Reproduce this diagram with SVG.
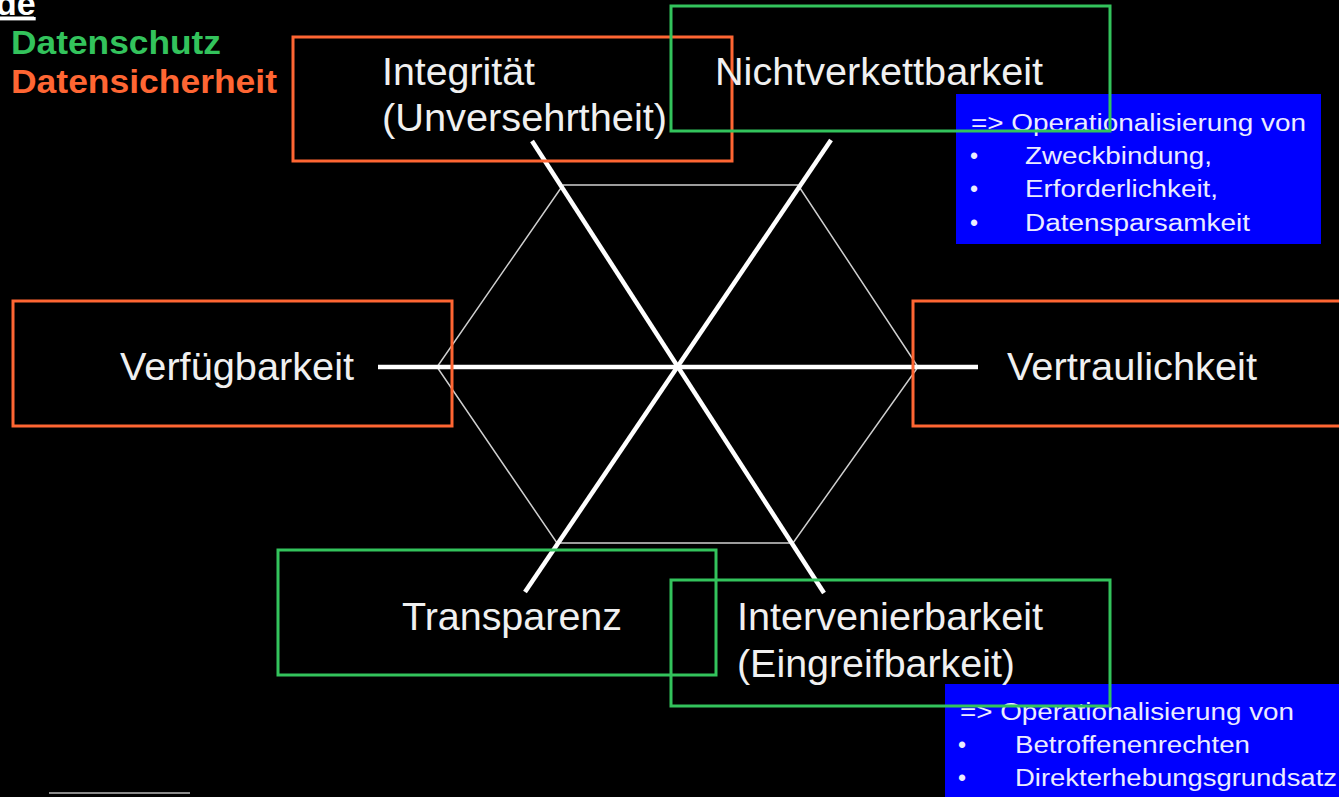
<svg xmlns="http://www.w3.org/2000/svg" width="1339" height="797" viewBox="0 0 1339 797">
<style>
.lbl{font-family:"Liberation Sans",Arial,sans-serif;font-size:38px;fill:#f0f0f0}
.leg{font-family:"Liberation Sans",Arial,sans-serif;font-size:34px;font-weight:bold}
.note{font-family:"Liberation Sans",Arial,sans-serif;font-size:23px;fill:#ececff}
.orange{fill:none;stroke:#ff6633;stroke-width:3}
.green{fill:none;stroke:#33c35c;stroke-width:3}
.axis{stroke:#ffffff;stroke-width:4.5;stroke-linecap:butt}
.blue{fill:#0000ff}
</style>
<rect x="0" y="0" width="1339" height="797" fill="#000000"/>
<g id="legend">
<text class="leg" x="-4" y="15" fill="#ffffff" text-decoration="underline">de</text>
<line x1="0" y1="17.5" x2="34" y2="17.5" stroke="#ffffff" stroke-width="2"/>
<text class="leg" x="11" y="54" fill="#33c35c" textLength="210" lengthAdjust="spacingAndGlyphs">Datenschutz</text>
<text class="leg" x="11" y="93" fill="#ff6633" textLength="266" lengthAdjust="spacingAndGlyphs">Datensicherheit</text>
</g>
<g id="hexagon">
<polygon points="563,185 798,185 918,367 793,543 557,543 437,367" fill="none" stroke="#cfcfcf" stroke-width="1.5"/>
</g>
<g id="connectors">
<line class="axis" x1="378" y1="367" x2="978" y2="367"/>
<line class="axis" x1="532" y1="141" x2="824" y2="593"/>
<line class="axis" x1="831" y1="140" x2="525" y2="592"/>
</g>
<g id="note-top">
<rect class="blue" x="956" y="94" width="365" height="150"/>
<text class="note" x="971" y="131" textLength="335" lengthAdjust="spacingAndGlyphs">=&gt; Operationalisierung von</text>
<text class="note" x="970" y="164">•</text>
<text class="note" x="1025" y="164" textLength="187" lengthAdjust="spacingAndGlyphs">Zweckbindung,</text>
<text class="note" x="970" y="197">•</text>
<text class="note" x="1025" y="197" textLength="193" lengthAdjust="spacingAndGlyphs">Erforderlichkeit,</text>
<text class="note" x="970" y="231">•</text>
<text class="note" x="1025" y="231" textLength="225" lengthAdjust="spacingAndGlyphs">Datensparsamkeit</text>
</g>
<g id="note-bottom">
<rect class="blue" x="945" y="684" width="394" height="113"/>
<text class="note" x="960" y="720" textLength="334" lengthAdjust="spacingAndGlyphs">=&gt; Operationalisierung von</text>
<text class="note" x="958" y="753">•</text>
<text class="note" x="1015" y="753" textLength="235" lengthAdjust="spacingAndGlyphs">Betroffenenrechten</text>
<text class="note" x="958" y="786">•</text>
<text class="note" x="1015" y="786" textLength="322" lengthAdjust="spacingAndGlyphs">Direkterhebungsgrundsatz</text>
</g>
<g id="integritaet">
<rect class="orange" x="293" y="37" width="439" height="124"/>
<text class="lbl" x="382" y="85" textLength="153" lengthAdjust="spacingAndGlyphs">Integrität</text>
<text class="lbl" x="382" y="131" textLength="285" lengthAdjust="spacingAndGlyphs">(Unversehrtheit)</text>
</g>
<g id="nichtverkettbarkeit">
<rect class="green" x="671" y="6" width="439" height="125"/>
<text class="lbl" x="715" y="85" textLength="328" lengthAdjust="spacingAndGlyphs">Nichtverkettbarkeit</text>
</g>
<g id="verfuegbarkeit">
<rect class="orange" x="13" y="301" width="439" height="125"/>
<text class="lbl" x="120" y="380" textLength="234" lengthAdjust="spacingAndGlyphs">Verfügbarkeit</text>
</g>
<g id="vertraulichkeit">
<rect class="orange" x="913" y="301" width="440" height="125"/>
<text class="lbl" x="1007" y="380" textLength="250" lengthAdjust="spacingAndGlyphs">Vertraulichkeit</text>
</g>
<g id="transparenz">
<rect class="green" x="278" y="550" width="438" height="125"/>
<text class="lbl" x="402" y="630" textLength="220" lengthAdjust="spacingAndGlyphs">Transparenz</text>
</g>
<g id="intervenierbarkeit">
<rect class="green" x="671" y="580" width="439" height="126"/>
<text class="lbl" x="737" y="630" textLength="306" lengthAdjust="spacingAndGlyphs">Intervenierbarkeit</text>
<text class="lbl" x="737" y="677" textLength="278" lengthAdjust="spacingAndGlyphs">(Eingreifbarkeit)</text>
</g>
<line x1="49" y1="793" x2="190" y2="793" stroke="#8a8a8a" stroke-width="2"/>
</svg>
